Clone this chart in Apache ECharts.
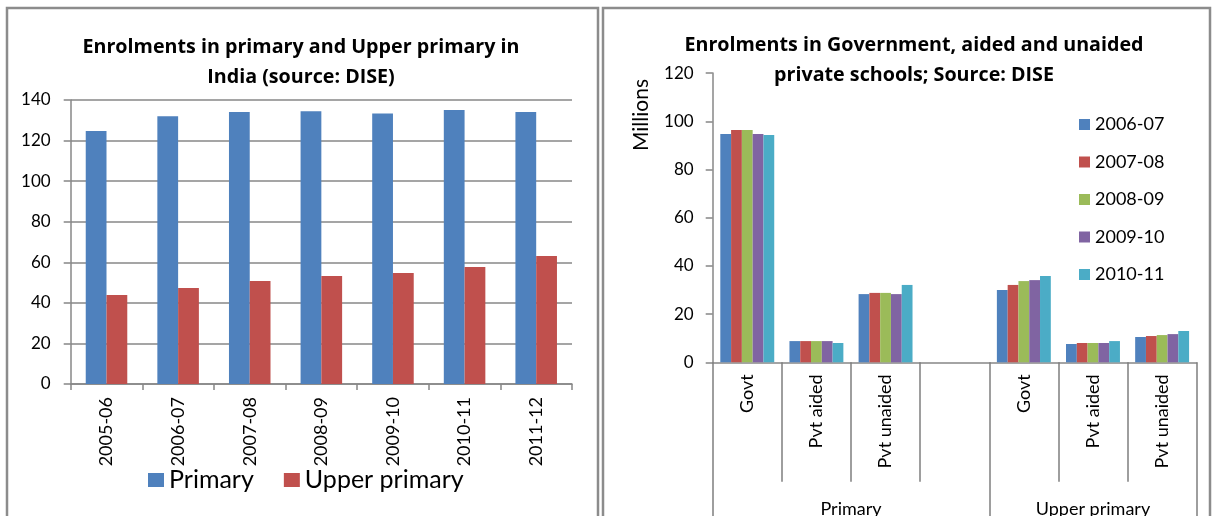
<!DOCTYPE html>
<html>
<head>
<meta charset="utf-8">
<script src="https://cdn.jsdelivr.net/npm/echarts@6/dist/echarts.min.js"></script>
<style>
html,body{margin:0;padding:0;background:#fff;}
#chart{width:1212px;height:516px;}
</style>
</head>
<body>
<div id="chart"></div>
<script>
// ---- Left chart data ----
const leftYears = ['2005-06','2006-07','2007-08','2008-09','2009-10','2010-11','2011-12'];
const primary = [124.7, 132.0, 134.1, 134.5, 133.4, 135.1, 134.1];
const upperPrimary = [43.9, 47.3, 50.8, 53.2, 54.7, 57.7, 63.1];

// ---- Right chart data ----
const rightCats = ['Govt','Pvt aided','Pvt unaided','','Govt','Pvt aided','Pvt unaided'];
const groupLabels = ['Primary','Upper primary'];
const rightSeriesNames = ['2006-07','2007-08','2008-09','2009-10','2010-11'];
const s0607 = [94.7, 8.8, 28.3, null, 30.0, 7.6, 10.5];
const s0708 = [96.4, 8.8, 28.8, null, 32.1, 8.0, 10.9];
const s0809 = [96.4, 8.8, 28.8, null, 33.7, 8.0, 11.3];
const s0910 = [94.7, 8.8, 28.3, null, 34.1, 8.0, 11.7];
const s1011 = [94.3, 8.0, 32.1, null, 35.8, 8.8, 13.0];
const rightValues = [s0607, s0708, s0809, s0910, s1011];

const colors = ['#4F81BD','#C0504D','#9BBB59','#8064A2','#4BACC6'];
const FONT = 'Lato';
const TFONT = 'Open Sans';
const GRAY = '#878787';

const chart = echarts.init(document.getElementById('chart'), null, {renderer:'canvas'});

const option = {
  animation: false,
  textStyle: {fontFamily: FONT},
  title: [
    {text: 'Enrolments in primary and Upper primary in\nIndia (source: DISE)', left: 301, top: 32, textAlign: 'center', padding: 0,
     textStyle: {fontFamily: TFONT, fontWeight: 'bold', fontSize: 19.7, lineHeight: 30, color: '#000'}},
    {text: 'Enrolments in Government, aided and unaided\nprivate schools; Source: DISE', left: 914, top: 30, textAlign: 'center', padding: 0,
     textStyle: {fontFamily: TFONT, fontWeight: 'bold', fontSize: 19.7, lineHeight: 30, color: '#000'}}
  ],
  legend: [
    {data: ['Primary','Upper primary'], left: 148, top: 466, padding: 0, itemWidth: 16, itemHeight: 14, itemGap: 30,
     icon: 'rect', textStyle: {fontFamily: FONT, fontSize: 25, lineHeight: 28, color: '#000'}},
    {data: rightSeriesNames, orient: 'vertical', left: 1079, top: 114, padding: 0, itemWidth: 11, itemHeight: 11, itemGap: 16.5,
     icon: 'rect', textStyle: {fontFamily: FONT, fontSize: 18, lineHeight: 21, color: '#000'}}
  ],
  grid: [
    {left: 70.7, top: 100, width: 501.3, height: 284, containLabel: false, outerBoundsMode: 'none'},
    {left: 712.7, top: 73.1, width: 484, height: 289.2, containLabel: false, outerBoundsMode: 'none'}
  ],
  xAxis: [
    {type: 'category', gridIndex: 0, position: 'bottom', data: leftYears,
     axisLine: {show: true, lineStyle: {color: GRAY, width: 1.5}},
     axisTick: {show: true, interval: 0, length: 6, lineStyle: {color: GRAY, width: 1.5}},
     axisLabel: {rotate: 90, interval: 0, margin: 13, fontFamily: FONT, fontSize: 18, color: '#000'}},
    {type: 'category', gridIndex: 1, position: 'bottom', data: rightCats,
     axisLine: {show: true, lineStyle: {color: GRAY, width: 1.5}},
     axisTick: {show: true, interval: 0, length: 119.5, lineStyle: {color: '#7f7f7f', width: 1.5}},
     axisLabel: {rotate: 90, interval: 0, margin: 12, fontFamily: FONT, fontSize: 18, color: '#000'}},
    {type: 'category', gridIndex: 1, position: 'bottom', data: rightCats,
     axisLine: {show: false},
     axisTick: {show: true, length: 160, interval: function (i) { return i === 0 || i === 4; }, lineStyle: {color: '#7f7f7f', width: 1.5}},
     axisLabel: {show: false}},
    {type: 'value', gridIndex: 1, position: 'bottom', min: 0, max: 7, interval: 0.5,
     axisLine: {show: false}, axisTick: {show: false}, splitLine: {show: false},
     axisLabel: {margin: 138, fontFamily: FONT, fontSize: 18, color: '#000', showMinLabel: true, showMaxLabel: true,
       formatter: function (v) { if (v === 2) return groupLabels[0]; if (v === 5.5) return groupLabels[1]; return ''; }}}
  ],
  yAxis: [
    {type: 'value', gridIndex: 0, min: 0, max: 140, interval: 20,
     axisLine: {show: true, lineStyle: {color: GRAY, width: 1.5}},
     axisTick: {show: true, length: 7, lineStyle: {color: GRAY, width: 1.5}},
     splitLine: {show: true, lineStyle: {color: GRAY, width: 1.5}},
     axisLabel: {margin: 20, fontFamily: FONT, fontSize: 17, color: '#000'}},
    {type: 'value', gridIndex: 1, min: 0, max: 120, interval: 20,
     axisLine: {show: true, lineStyle: {color: GRAY, width: 1.5}},
     axisTick: {show: true, length: 7, lineStyle: {color: GRAY, width: 1.5}},
     splitLine: {show: false},
     axisLabel: {margin: 19, fontFamily: FONT, fontSize: 17, color: '#000'}}
  ],
  graphic: [
    {type: 'rect', shape: {x: 7, y: 8, width: 591, height: 530}, style: {fill: null, stroke: '#8c8c8c', lineWidth: 2.5}, silent: true},
    {type: 'rect', shape: {x: 603, y: 8, width: 607, height: 530}, style: {fill: null, stroke: '#8c8c8c', lineWidth: 2.5}, silent: true},
    {type: 'text', x: 641.5, y: 115, rotation: Math.PI / 2,
     style: {text: 'Millions', font: '21px Lato', fill: '#000', align: 'center', verticalAlign: 'middle'}}
  ],
  series: [
    {name: 'Primary', type: 'bar', xAxisIndex: 0, yAxisIndex: 0, data: primary, barGap: '0%', barCategoryGap: '42%',
     itemStyle: {color: colors[0]}},
    {name: 'Upper primary', type: 'bar', xAxisIndex: 0, yAxisIndex: 0, data: upperPrimary, barGap: '0%', barCategoryGap: '42%',
     itemStyle: {color: colors[1]}}
  ].concat(rightSeriesNames.map(function (n, i) {
    return {name: n, type: 'bar', xAxisIndex: 1, yAxisIndex: 1, data: rightValues[i], barGap: '0%', barCategoryGap: '22%',
      itemStyle: {color: colors[i]}};
  }))
};
chart.setOption(option);
</script>
</body>
</html>
